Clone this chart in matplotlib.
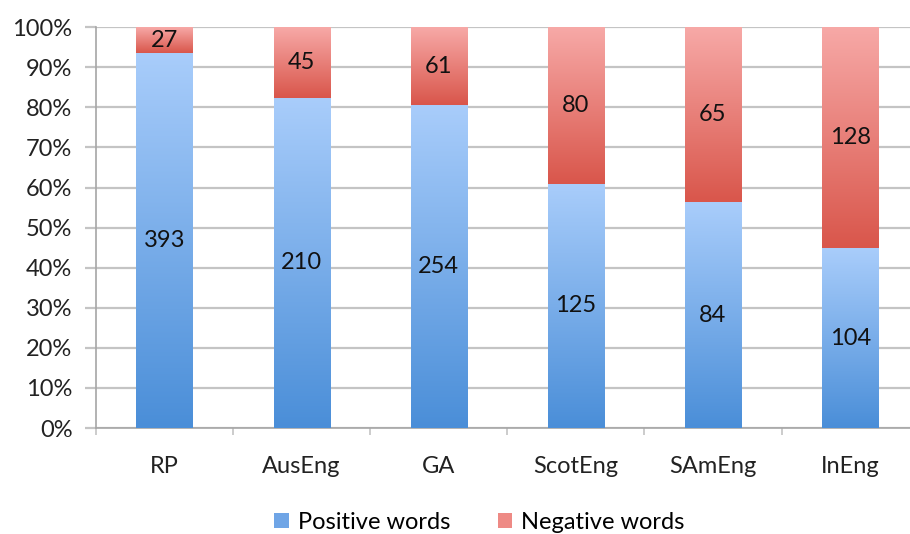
import matplotlib
matplotlib.use("Agg")
import matplotlib.pyplot as plt
import numpy as np
from matplotlib.colors import LinearSegmentedColormap
from matplotlib.patches import Patch
from matplotlib.ticker import PercentFormatter

# Data
categories = ["RP", "AusEng", "GA", "ScotEng", "SAmEng", "InEng"]
positive = [393, 210, 254, 125, 84, 104]
negative = [27, 45, 61, 80, 65, 128]

plt.rcParams["font.family"] = ["Lato", "DejaVu Sans"]

blue_cmap = LinearSegmentedColormap.from_list("blue", ["#4a8ed8", "#a9cdfb"])
red_cmap = LinearSegmentedColormap.from_list("red", ["#d9564b", "#f7a9a7"])


def gradient_fill(ax, bars, cmap):
    """Replace flat bar fills with a vertical gradient."""
    grad = np.linspace(0, 1, 256).reshape(-1, 1)
    for bar in bars:
        x0, y0 = bar.get_x(), bar.get_y()
        w, h = bar.get_width(), bar.get_height()
        img = ax.imshow(grad, extent=[x0, x0 + w, y0, y0 + h], origin="lower",
                        aspect="auto", cmap=cmap, zorder=3)
        img.set_clip_path(bar)
        bar.set_alpha(0)


def main():
    pos = np.array(positive, dtype=float)
    neg = np.array(negative, dtype=float)
    total = pos + neg
    pos_pct = pos / total * 100
    neg_pct = neg / total * 100
    x = np.arange(len(categories))

    fig = plt.figure(figsize=(9.1, 5.34), dpi=100)
    ax = fig.add_axes([0.1055, 0.1985, 0.904, 0.7505])

    fs = 17
    width = 0.41
    pos_bars = ax.bar(x, pos_pct, width, color="#79aeea", zorder=3)
    neg_bars = ax.bar(x, neg_pct, width, bottom=pos_pct, color="#ea7b74", zorder=3)
    gradient_fill(ax, pos_bars, blue_cmap)
    gradient_fill(ax, neg_bars, red_cmap)

    # Value labels in the middle of each segment
    for i in range(len(categories)):
        ax.text(x[i], pos_pct[i] / 2, str(positive[i]), ha="center", va="center",
                fontsize=fs, color="#111111", zorder=5)
        ax.text(x[i], pos_pct[i] + neg_pct[i] / 2, str(negative[i]), ha="center",
                va="center", fontsize=fs, color="#111111", zorder=5)

    ax.set_xlim(-0.5, len(categories) - 0.5)
    ax.set_ylim(0, 100)
    ax.set_yticks(np.arange(0, 101, 10))
    ax.yaxis.set_major_formatter(PercentFormatter(decimals=0))
    ax.set_xticks(x)
    ax.set_xticklabels(categories)
    ax.set_xticks(np.arange(-0.5, len(categories), 1), minor=True)

    ax.grid(axis="y", color="#c4c4c4", linewidth=1.6, zorder=0)
    ax.set_axisbelow(True)
    for side in ["top", "right"]:
        ax.spines[side].set_visible(False)
    for side in ["left", "bottom"]:
        ax.spines[side].set_color("#a6a6a6")
        ax.spines[side].set_linewidth(1.2)

    ax.tick_params(axis="y", length=8, width=1.6, color="#c4c4c4", labelsize=fs,
                   labelcolor="#222222", pad=9)
    ax.tick_params(axis="x", which="major", length=0, labelsize=fs,
                   labelcolor="#222222", pad=20)
    ax.tick_params(axis="x", which="minor", length=5, width=1.2, color="#c4c4c4")

    handles = [Patch(facecolor="#6fa5e6", label="Positive words"),
               Patch(facecolor="#ee8a85", label="Negative words")]
    fig.legend(handles=handles, loc="center", bbox_to_anchor=(0.527, 0.022), ncol=2,
               frameon=False, fontsize=fs, handlelength=0.6, handleheight=0.6,
               handletextpad=0.4, columnspacing=2.0)

    fig.savefig("out.png", dpi=100)


if __name__ == "__main__":
    main()
